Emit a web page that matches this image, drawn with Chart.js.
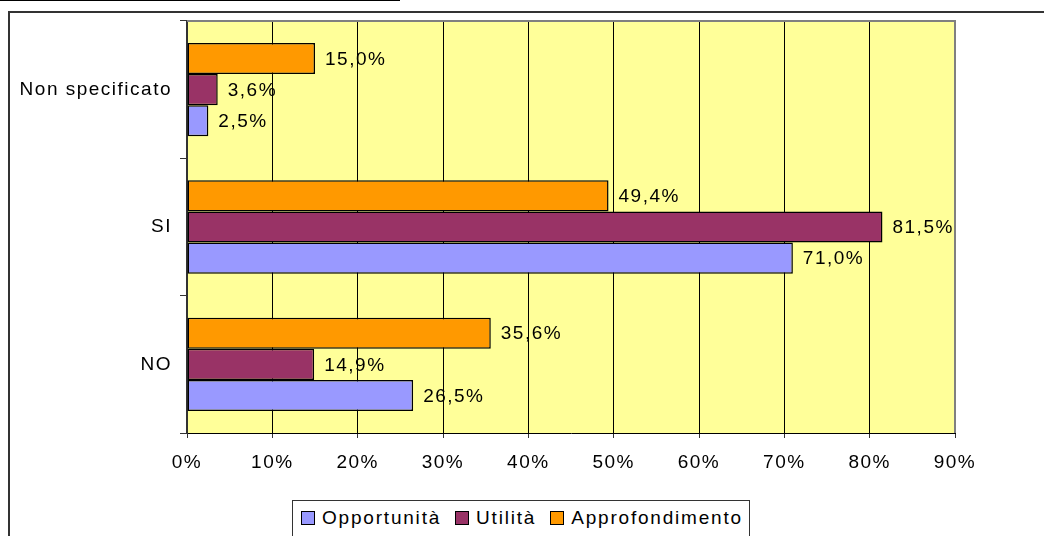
<!DOCTYPE html>
<html>
<head>
<meta charset="utf-8">
<script src="https://cdn.jsdelivr.net/npm/chart.js@4.4.1/dist/chart.umd.min.js"></script>
<style>
    html, body { margin: 0; padding: 0; background: #fff; }
    #wrap { position: relative; width: 1044px; height: 536px; overflow: hidden; }
    #grafico { position: absolute; left: 0; top: 0; }
    #legenda {
        position: absolute; left: 292px; top: 500px; width: 458px; height: 44px;
        border: 1px solid #333; box-sizing: border-box; background: #fff;
        font: 19px "Liberation Sans", Arial, sans-serif; letter-spacing: 1.8px; color: #000;
        display: flex; align-items: flex-start; padding: 6px 0 0 8px;
    }
    .voce { display: flex; align-items: center; margin-right: 14px; white-space: nowrap; }
    .quad { width: 12px; height: 12px; border: 1px solid #000; margin-right: 7px; }
</style>
</head>
<body>
<div id="wrap">
    <canvas id="grafico" width="1044" height="536"></canvas>
    <div id="legenda"></div>
</div>
<script>
// Dati del grafico (percentuali), categorie dall'alto verso il basso
const categorie = ['Non specificato', 'SI', 'NO'];
const opportunita = [2.5, 71.0, 26.5];
const utilita = [3.6, 81.5, 14.9];
const approfondimento = [15.0, 49.4, 35.6];
const tickPercentuali = [0, 10, 20, 30, 40, 50, 60, 70, 80, 90];

const FONT = '"Liberation Sans", Arial, sans-serif';
const SPAZIO = '1.5px';

// spaziatura delle lettere (il testo originale e' piu' largo)
const spaziatura = {
    id: 'spaziatura',
    beforeInit(chart) { chart.ctx.letterSpacing = SPAZIO; },
    beforeUpdate(chart) { chart.ctx.letterSpacing = SPAZIO; },
    beforeLayout(chart) { chart.ctx.letterSpacing = SPAZIO; },
    beforeDraw(chart) { chart.ctx.letterSpacing = SPAZIO; }
};

// sfondo giallo dell'area del grafico e cornice esterna
const sfondo = {
    id: 'sfondo',
    beforeDraw(chart) {
        const { ctx, chartArea: a } = chart;
        ctx.save();
        ctx.fillStyle = '#FFFF99';
        ctx.fillRect(a.left, a.top, a.right - a.left, a.bottom - a.top);
        ctx.strokeStyle = '#000';
        ctx.lineWidth = 1;
        ctx.beginPath();
        ctx.moveTo(0, 0.5); ctx.lineTo(400, 0.5);
        ctx.stroke();
        ctx.strokeStyle = '#333';
        ctx.lineWidth = 2;
        ctx.beginPath();
        ctx.moveTo(1044, 12); ctx.lineTo(9, 12); ctx.lineTo(9, 536);
        ctx.stroke();
        ctx.restore();
    },
    afterDraw(chart) {
        const { ctx, chartArea: a } = chart;
        ctx.save();
        ctx.strokeStyle = '#808080';
        ctx.lineWidth = 2;
        ctx.beginPath();
        ctx.moveTo(a.left, a.top); ctx.lineTo(a.right, a.top); ctx.lineTo(a.right, a.bottom);
        ctx.stroke();
        ctx.restore();
    }
};

// etichette dei valori a destra delle barre
const etichette = {
    id: 'etichette',
    afterDatasetsDraw(chart) {
        const ctx = chart.ctx;
        ctx.save();
        ctx.font = '19px ' + FONT;
        ctx.fillStyle = '#000';
        ctx.textAlign = 'left';
        ctx.textBaseline = 'middle';
        chart.data.datasets.forEach((ds, i) => {
            chart.getDatasetMeta(i).data.forEach((bar, j) => {
                const testo = ds.data[j].toFixed(1).replace('.', ',') + '%';
                ctx.fillText(testo, bar.x + 10, bar.y + 1);
            });
        });
        ctx.restore();
    }
};

// ordine delle barre dall'alto: Approfondimento, Utilità, Opportunità
const serie = [
    { label: 'Opportunità', data: opportunita, backgroundColor: '#9999FF' },
    { label: 'Utilità', data: utilita, backgroundColor: '#993366' },
    { label: 'Approfondimento', data: approfondimento, backgroundColor: '#FF9900' }
];
const datasets = serie.slice().reverse().map(d => ({ ...d, borderColor: '#000', borderWidth: 1.5,
    borderSkipped: false, categoryPercentage: 0.68, barPercentage: 1.0 }));

const grafico = new Chart(document.getElementById('grafico').getContext('2d'), {
    type: 'bar',
    data: { labels: categorie, datasets: datasets },
    options: {
        indexAxis: 'y',
        responsive: false,
        animation: false,
        layout: { padding: { left: 0, top: 21, right: 89, bottom: 0 } },
        plugins: { legend: { display: false }, tooltip: { enabled: false } },
        scales: {
            x: {
                min: 0, max: 90,
                afterBuildTicks(scale) { scale.ticks = tickPercentuali.map(v => ({ value: v })); },
                afterFit(scale) { scale.height = 103; },
                ticks: { color: '#000', font: { family: FONT, size: 19 }, padding: 13,
                    callback: v => v + '%' },
                grid: { color: '#000', lineWidth: 1, tickLength: 5, tickColor: '#333' },
                border: { color: '#000', width: 1 }
            },
            y: {
                afterFit(scale) { scale.width = 187; },
                ticks: { color: '#000', font: { family: FONT, size: 19 }, padding: 8 },
                grid: { offset: true, drawOnChartArea: false, tickLength: 7, color: '#333' },
                border: { color: '#333', width: 2 }
            }
        }
    },
    plugins: [spaziatura, sfondo, etichette]
});

// legenda in HTML (riquadro con bordo come nell'originale)
const legenda = document.getElementById('legenda');
serie.forEach(d => {
    const voce = document.createElement('div');
    voce.className = 'voce';
    voce.innerHTML = `<span class="quad" style="background:${d.backgroundColor}"></span><span>${d.label}</span>`;
    legenda.appendChild(voce);
});
</script>
</body>
</html>
